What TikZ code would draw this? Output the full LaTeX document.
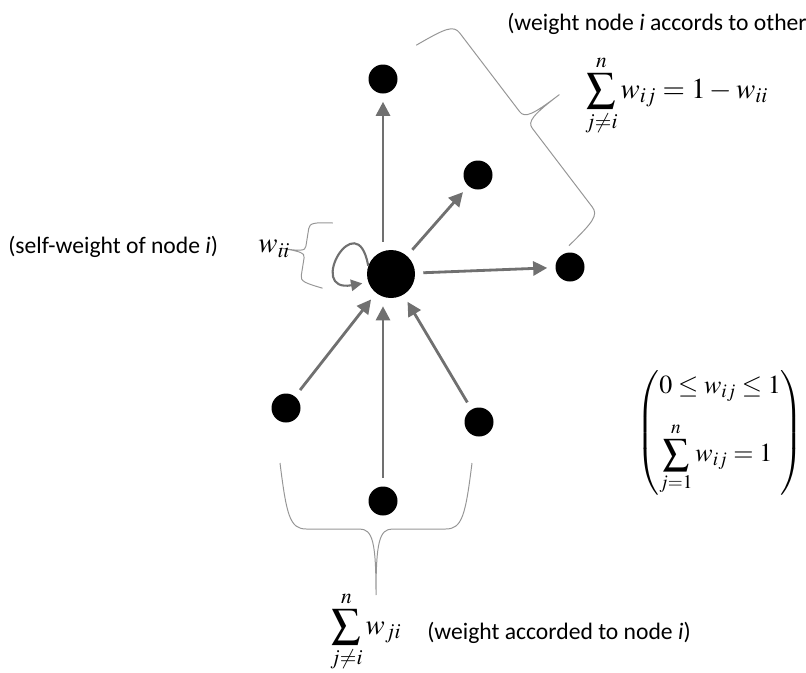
\documentclass[tikz,border=0pt]{standalone}
\usepackage{amsmath}
\usepackage{mathptmx}
\usepackage[no-math]{fontspec}
\setmainfont{Carlito}
\usetikzlibrary{arrows.meta, positioning, calc}

\definecolor{arrowgray}{RGB}{112,112,112}
\definecolor{bracegray}{RGB}{150,150,150}

% curly brace: #1 half length, #2 height of ends and tip
\tikzset{
    pics/curly/.style 2 args={code={
        \draw[bracegray, line width=0.7pt]
            (-#1,-#2) .. controls (-#1+0.1*#2,-0.2*#2) and (-#1+0.15*#2,0) .. (-#1+0.4*#2,0)
            -- (-0.25*#2,0) .. controls (-0.05*#2,0) and (0,0.2*#2) .. (0,#2)
            .. controls (0,0.2*#2) and (0.05*#2,0) .. (0.25*#2,0)
            -- (#1-0.4*#2,0) .. controls (#1-0.15*#2,0) and (#1-0.1*#2,-0.2*#2) .. (#1,-#2);
    }}
}

\begin{document}
\begin{tikzpicture}[x=0.025cm, y=-0.025cm,
    dot/.style={circle, fill=black, minimum size=0.725cm, inner sep=0pt},
    bigdot/.style={circle, fill=black, minimum size=1.2cm, inner sep=0pt},
    arrow/.style={-{Triangle[length=10pt, width=10pt]}, draw=arrowgray, line width=2pt, shorten <=0.2cm, shorten >=0.2cm},
    selfloop/.style={-{Triangle[length=8pt, width=8pt]}, draw=arrowgray, line width=1.5pt, shorten >=0.15cm},
    txt/.style={font=\fontsize{16.8}{20}\selectfont, inner sep=0pt},
    eq/.style={font=\fontsize{20.5}{25}\selectfont, inner sep=0pt}
]
    \useasboundingbox (0,0) rectangle (806,672);

    % node i and its neighbours
    \node[bigdot] (i) at (391,274) {};
    \node[dot] (top) at (383,79) {};
    \node[dot] (upright) at (478,175) {};
    \node[dot] (right) at (570,267) {};
    \node[dot] (lowleft) at (286,408) {};
    \node[dot] (bottom) at (383,501) {};
    \node[dot] (lowright) at (479,422) {};

    % outgoing weights
    \draw[arrow] (i.north -| top) -- (top);
    \draw[arrow] (i) -- (upright);
    \draw[arrow] (i) -- (right);

    % incoming weights
    \draw[arrow] (lowleft) -- (i);
    \draw[arrow] (bottom) -- (i.south -| bottom);
    \draw[arrow] (lowright) -- (i);

    % self-weight
    \draw[selfloop] (i.160) to[out=100, in=190, distance=1.6cm] (i.200);

    % braces
    \pic[rotate=-99] at (305,252) {curly={33}{23}};
    \pic[rotate=127.3] at (526,120) {curly={126}{42}};
    \pic at (376,529) {curly={96}{66}};

    % labels
    \node[txt, anchor=west] (selftxt) at (8,247) {(self-weight of node \textit{i})};
    \node[eq, anchor=west] (selfeq) at (258,249) {$w_{ii}$};
    \node[txt, anchor=west] (outtxt) at (507,24) {(weight node \textit{i} accords to other};
    \node[eq, anchor=west] (outeq) at (585,96) {$\displaystyle\sum_{j\neq i}^{n} w_{ij} = 1 - w_{ii}$};
    \node[eq, anchor=west] (ineq) at (330,632) {$\displaystyle\sum_{j\neq i}^{n} w_{ji}$};
    \node[txt, anchor=west] (intxt) at (427,633) {(weight accorded to node \textit{i})};
    \node[eq, anchor=east, font=\fontsize{18.5}{23}\selectfont] (cond) at (804,433) {$\left(\begin{array}{@{}l@{}}
        0 \le w_{ij} \le 1\\[14pt]
        \displaystyle\sum_{j=1}^{n} w_{ij} = 1
    \end{array}\right)$};
\end{tikzpicture}
\end{document}
